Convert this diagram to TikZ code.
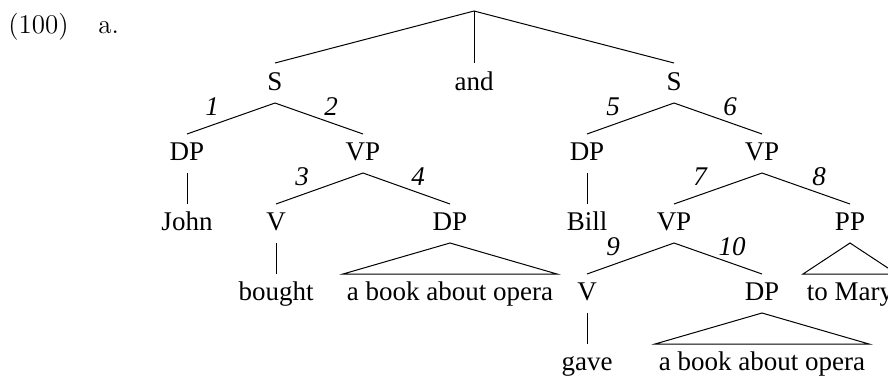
\documentclass[tikz,border=0pt]{standalone}
\usepackage{fontspec}
\newfontfamily\tnr{Liberation Serif}
\usetikzlibrary{calc}
\newcommand\tedge[2]{\draw[br] ($(#1.base)+(0,13)$) -- ($(#2.base)+(0,-26)$);}
\newcommand\ttri[3]{\draw[br] ($(#1.base)+(0,13)$) -- ($(#2.base)+(#3,-26)$) -- ($(#2.base)+(-#3,-26)$) -- cycle;}
\begin{document}
\begin{tikzpicture}[x=0.5pt,y=-0.5pt,
  lbl/.style={inner sep=0,anchor=base,font=\tnr\fontsize{13.5}{16}\selectfont},
  num/.style={inner sep=0,anchor=base,font=\tnr\itshape\fontsize{13.5}{16}\selectfont},
  ex/.style={inner sep=0,anchor=base west,font=\fontsize{13.5}{16}\selectfont},
  br/.style={line width=0.5pt,line join=miter}]
\clip (0,0) rectangle (888,376);
\node[ex] (exno) at (8,33) {(100)};
\node[ex] (exa) at (98,33) {a.};
\coordinate (root) at (474,11);
% row 1
\node[lbl] (S1) at (275,90) {S};
\node[lbl] (and) at (474,90) {and};
\node[lbl] (S2) at (674,90) {S};
% row 2
\node[lbl] (DP1) at (187,160) {DP};
\node[lbl] (VP1) at (363,160) {VP};
\node[lbl] (DP2) at (587,160) {DP};
\node[lbl] (VP2) at (762,160) {VP};
% row 3
\node[lbl] (John) at (187,230) {John};
\node[lbl] (V1) at (276,230) {V};
\node[lbl] (DP3) at (450,230) {DP};
\node[lbl] (Bill) at (587,230) {Bill};
\node[lbl] (VP3) at (674,230) {VP};
\node[lbl] (PP) at (850,230) {PP};
% row 4
\node[lbl] (bought) at (276,300) {bought};
\node[lbl] (abao1) at (450,300) {a book about opera};
\node[lbl] (V2) at (587,300) {V};
\node[lbl] (DP4) at (762,300) {DP};
\node[lbl] (toMary) at (850,300) {to Mary};
% row 5
\node[lbl] (gave) at (587,370) {gave};
\node[lbl] (abao2) at (762,370) {a book about opera};
% edges
\draw[br] ($(S1.base)+(0,-27)$) -- (root) -- ($(S2.base)+(0,-27)$);
\draw[br] (root) -- ($(and.base)+(0,-27)$);
\tedge{S1}{DP1}
\tedge{S1}{VP1}
\tedge{S2}{DP2}
\tedge{S2}{VP2}
\tedge{DP1}{John}
\tedge{VP1}{V1}
\tedge{VP1}{DP3}
\tedge{DP2}{Bill}
\tedge{VP2}{VP3}
\tedge{VP2}{PP}
\tedge{V1}{bought}
\ttri{DP3}{abao1}{107}
\tedge{VP3}{V2}
\tedge{VP3}{DP4}
\ttri{PP}{toMary}{47}
\tedge{V2}{gave}
\ttri{DP4}{abao2}{107}
% numbers
\node[num] (n1) at (212,115) {1};
\node[num] (n2) at (331,115) {2};
\node[num] (n5) at (613,115) {5};
\node[num] (n6) at (730,115) {6};
\node[num] (n3) at (302,185) {3};
\node[num] (n4) at (418,185) {4};
\node[num] (n7) at (700,185) {7};
\node[num] (n8) at (819,185) {8};
\node[num] (n9) at (613,255) {9};
\node[num] (n10) at (732,255) {10};
\end{tikzpicture}
\end{document}
